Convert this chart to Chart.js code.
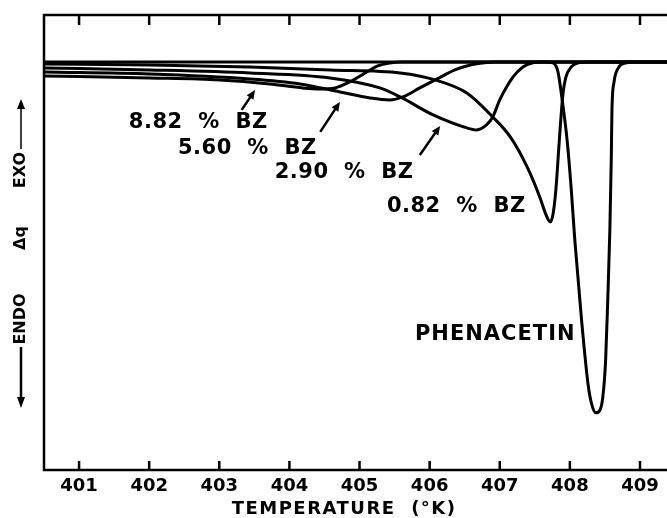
<!DOCTYPE html>
<html><head><meta charset="utf-8">
<script src="https://cdn.jsdelivr.net/npm/chart.js@4.4.1/dist/chart.umd.min.js"></script>
<style>html,body{margin:0;padding:0;background:#fff;}canvas{display:block;}</style>
</head><body>
<canvas id="c" width="667" height="518"></canvas>
<script>
// ---- data (temperature in K, Δq in arbitrary units, endo negative) ----
const tickTemps = [401,402,403,404,405,406,407,408,409];

const phenT = [400.50,407.64,407.76,407.83,407.89,407.96,408.02,408.07,408.17,408.26,408.31,408.37,408.43,408.47,408.51,408.54,408.57,408.59,408.60,408.63,408.69,408.79,408.93,409.38];
const phenQ = [0,0,-0.25,-2.45,-9.31,-19.11,-31.36,-43.62,-63.95,-79.1,-83.8,-86.0,-85.3,-82.1,-73.0,-58.3,-41.2,-24.0,-11.8,-4.9,-1.5,-0.25,0,0];

const bz082T = [400.50,402.01,403.44,404.58,405.58,406.08,406.53,406.90,407.15,407.39,407.57,407.66,407.72,407.76,407.80,407.84,407.87,407.90,407.94,408.02,408.11,408.29,409.38];
const bz082Q = [-0.49,-0.74,-1.23,-1.96,-2.70,-4.41,-7.60,-13.48,-18.38,-25.73,-33.08,-37.49,-39.21,-37.25,-31.36,-21.56,-14.21,-8.09,-3.92,-1.23,-0.25,0,0];

const bz290T = [400.50,402.01,403.44,404.58,405.29,405.58,406.05,406.53,406.67,406.81,406.90,407.00,407.19,407.33,407.46,407.64,409.38];
const bz290Q = [-1.47,-1.96,-2.70,-3.92,-6.37,-8.58,-12.99,-16.17,-16.66,-15.44,-13.48,-9.31,-3.68,-1.23,-0.25,0,0];

const bz560T = [400.50,402.01,403.44,404.15,404.72,405.15,405.43,405.62,405.86,406.08,406.36,406.58,406.76,406.93,409.38];
const bz560Q = [-2.45,-2.94,-4.17,-5.39,-7.35,-8.82,-9.31,-8.58,-6.37,-4.41,-1.96,-0.74,-0.25,0,0];

const bz882T = [400.50,402.01,403.01,403.72,404.19,404.44,404.65,404.86,405.08,405.26,405.43,405.61,409.38];
const bz882Q = [-3.43,-3.92,-4.41,-5.39,-6.37,-6.62,-6.37,-4.90,-2.70,-0.98,-0.25,0,0];

const seriesNames = ['PHENACETIN','0.82 % BZ','2.90 % BZ','5.60 % BZ','8.82 % BZ'];

// curve label anchors (data coordinates) and arrows
const labelTexts = ['8.82  %  BZ','5.60  %  BZ','2.90  %  BZ','0.82  %  BZ','PHENACETIN'];
const labelT = [401.71,402.41,403.79,405.39,405.79];
const labelQ = [-14.95,-21.32,-27.2,-35.53,-66.9];
const arrowFromT = [403.32,404.44,405.86];
const arrowFromQ = [-11.76,-17.15,-22.79];
const arrowToT = [403.51,404.72,406.15];
const arrowToQ = [-6.86,-9.80,-15.68];

const xTitle = 'TEMPERATURE  (°K)';

// ---- chart ----
const pts = (T,Q)=>T.map((t,i)=>({x:t,y:Q[i]}));
const mk = (name,T,Q)=>({label:name,data:pts(T,Q),borderColor:'#000',borderWidth:3,pointRadius:0,
  showLine:true,fill:false,cubicInterpolationMode:'monotone',borderJoinStyle:'round',borderCapStyle:'round'});

const FONT = '"DejaVu Sans", sans-serif';

const decor = {
  id:'decor',
  afterDatasetsDraw(chart){
    const {ctx, chartArea:a, scales:{x,y}} = chart;
    ctx.save();
    ctx.strokeStyle='#000'; ctx.fillStyle='#000';
    // frame
    ctx.lineWidth=2.5;
    ctx.beginPath();
    ctx.moveTo(a.right+5,a.top); ctx.lineTo(a.left,a.top); ctx.lineTo(a.left,a.bottom); ctx.lineTo(a.right+5,a.bottom);
    ctx.stroke();
    // inward ticks
    ctx.beginPath();
    tickTemps.forEach(t=>{const p=x.getPixelForValue(t);
      ctx.moveTo(p,a.top); ctx.lineTo(p,a.top+10);
      ctx.moveTo(p,a.bottom); ctx.lineTo(p,a.bottom-9);});
    ctx.stroke();
    // curve labels
    ctx.textBaseline='middle'; ctx.textAlign='left';
    labelTexts.forEach((s,i)=>{
      ctx.font = (i===4 ? 'bold 21px ' : 'bold 21px ')+FONT;
      try{ctx.letterSpacing = i===4 ? '1px' : '0.5px';}catch(e){}
      ctx.fillText(s, x.getPixelForValue(labelT[i]), y.getPixelForValue(labelQ[i]));
    });
    try{ctx.letterSpacing='0px';}catch(e){}
    // arrows
    ctx.lineWidth=2.5;
    arrowFromT.forEach((t,i)=>{
      const x0=x.getPixelForValue(t), y0=y.getPixelForValue(arrowFromQ[i]);
      const x1=x.getPixelForValue(arrowToT[i]), y1=y.getPixelForValue(arrowToQ[i]);
      const ang=Math.atan2(y1-y0,x1-x0);
      ctx.beginPath(); ctx.moveTo(x0,y0); ctx.lineTo(x1-5*Math.cos(ang),y1-5*Math.sin(ang)); ctx.stroke();
      ctx.beginPath(); ctx.moveTo(x1,y1);
      ctx.lineTo(x1-9*Math.cos(ang)+4*Math.sin(ang), y1-9*Math.sin(ang)-4*Math.cos(ang));
      ctx.lineTo(x1-9*Math.cos(ang)-4*Math.sin(ang), y1-9*Math.sin(ang)+4*Math.cos(ang));
      ctx.closePath(); ctx.fill();
    });
    // x title
    ctx.font='bold 18px '+FONT; ctx.textAlign='center'; ctx.textBaseline='middle';
    try{ctx.letterSpacing='1.5px';}catch(e){}
    ctx.fillText(xTitle, x.getPixelForValue(404.78), a.bottom+39);
    // y title (rotated)
    const xc=a.left-23;
    ctx.font='bold 16px '+FONT;
    try{ctx.letterSpacing='0px';}catch(e){}
    const rot=(txt,cy)=>{ctx.save(); ctx.translate(xc,cy); ctx.rotate(-Math.PI/2); ctx.fillText(txt,0,0); ctx.restore();};
    rot('EXO', a.top+155);
    rot('Δq', a.top+223);
    rot('ENDO', a.top+304);
    // arrows on y title
    ctx.lineWidth=2.5;
    ctx.beginPath(); ctx.moveTo(xc,a.top+332); ctx.lineTo(xc,a.top+384); ctx.stroke();
    ctx.beginPath(); ctx.moveTo(xc,a.top+393); ctx.lineTo(xc-4,a.top+382); ctx.lineTo(xc+4,a.top+382); ctx.closePath(); ctx.fill();
    ctx.lineWidth=1.5;
    ctx.beginPath(); ctx.moveTo(xc,a.top+134); ctx.lineTo(xc,a.top+92); ctx.stroke();
    ctx.beginPath(); ctx.moveTo(xc,a.top+84); ctx.lineTo(xc-4,a.top+94); ctx.lineTo(xc+4,a.top+94); ctx.closePath(); ctx.fill();
    ctx.restore();
  }
};

new Chart(document.getElementById('c').getContext('2d'), {
  type:'scatter',
  data:{datasets:[
    mk(seriesNames[0],phenT,phenQ),
    mk(seriesNames[1],bz082T,bz082Q),
    mk(seriesNames[2],bz290T,bz290Q),
    mk(seriesNames[3],bz560T,bz560Q),
    mk(seriesNames[4],bz882T,bz882Q)
  ]},
  options:{
    responsive:false, animation:false, events:[],
    layout:{padding:{left:44,top:15,right:0,bottom:0}},
    plugins:{legend:{display:false},tooltip:{enabled:false}},
    scales:{
      x:{type:'linear',min:400.5,max:409.385,
        afterBuildTicks:s=>{s.ticks=tickTemps.map(v=>({value:v}));},
        afterFit:s=>{s.height=48;},
        grid:{display:false,drawTicks:false},border:{display:false},
        ticks:{color:'#000',font:{family:'DejaVu Sans',weight:'bold',size:18},padding:6,maxRotation:0,autoSkip:false,
          callback:v=>String(v)}},
      y:{display:false,min:-100,max:11.5}
    }
  },
  plugins:[decor]
});
</script>
</body></html>
